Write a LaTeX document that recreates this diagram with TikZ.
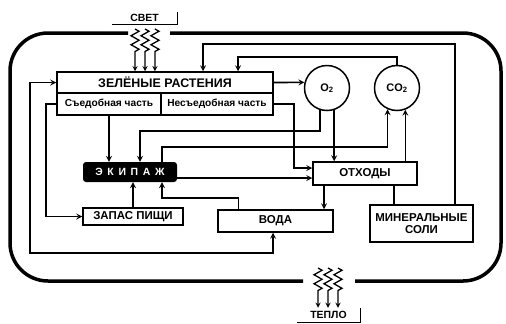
\documentclass[tikz,border=0pt]{standalone}
\usepackage{fontspec}
\setmainfont{Liberation Sans}
\usetikzlibrary{decorations.pathmorphing}

\newcommand{\spaced}[1]{\addfontfeature{LetterSpace=45}#1}

\begin{document}
\begin{tikzpicture}[
    x=1bp, y=-1bp,
    block/.style={rectangle, draw, line width=1.5bp, inner sep=0pt, font=\bfseries\fontsize{11.5}{12.5}\selectfont},
    part/.style={rectangle, draw, line width=1.5bp, inner sep=0pt, minimum height=22bp, font=\bfseries\fontsize{10.2}{11}\selectfont},
    gas/.style={circle, draw, line width=1.5bp, minimum size=45bp, inner sep=0pt, font=\bfseries\fontsize{11}{12}\selectfont},
    crewbox/.style={rectangle, rounded corners=3bp, fill=black, text=white, minimum width=94bp, minimum height=20bp, font=\bfseries\fontsize{10.5}{11}\selectfont},
    extlabel/.style={inner sep=0pt, minimum height=14bp, font=\bfseries\fontsize{10.5}{11}\selectfont},
    flow/.style={->, >=stealth, line width=1.6bp},
    heat/.style={->, >=stealth, line width=1.3bp, decoration={zigzag, segment length=9bp, amplitude=4bp}},
    frame/.style={line width=3.5bp, rounded corners=38bp}
]
    \useasboundingbox (0,0) rectangle (506,323);

    % Frame with openings for light and heat
    \draw[frame] (170,33) -- (501,33) -- (501,281) -- (355,281);
    \draw[frame] (303,281) -- (10,281) -- (10,33) -- (128,33);

    % Blocks
    \node[block, minimum width=216bp, minimum height=21bp, font=\bfseries\fontsize{12.5}{13}\selectfont] (plants) at (165,82.5) {ЗЕЛЁНЫЕ РАСТЕНИЯ};
    \node[part, minimum width=104bp] (edible) at (109,104) {Съедобная часть};
    \node[part, minimum width=112bp] (inedible) at (217,104) {Несъедобная часть};
    \node[gas] (o2) at (327,88) {O\textsubscript{2}};
    \node[gas] (co2) at (397,88) {CO\textsubscript{2}};
    \node[crewbox] (crew) at (130,172) {\spaced{ЭКИПАЖ}};
    \node[block, minimum width=100bp, minimum height=17bp] (food) at (133,216.5) {ЗАПАС ПИЩИ};
    \node[block, minimum width=115bp, minimum height=22bp] (water) at (275.5,221) {ВОДА};
    \node[block, minimum width=104bp, minimum height=23bp] (waste) at (365,173.5) {ОТХОДЫ};
    \node[block, minimum width=103bp, minimum height=37bp, align=center] (salts) at (421.5,223.5) {МИНЕРАЛЬНЫЕ\\СОЛИ};

    % Light and heat
    \node[extlabel, minimum width=65bp] (light) at (144.5,17.5) {СВЕТ};
    \draw[line width=1.4bp] (light.south west) -- (light.south east) -- ([yshift=-2bp]light.north east);
    \coordinate (sun) at (145,29);
    \foreach \dx in {-10,0,10}
        \draw[heat] ([xshift=\dx]sun) decorate {-- ++(0,24)} -- ([xshift=\dx]sun |- plants.north);
    \node[extlabel, minimum width=63bp] (warmth) at (328.5,315) {ТЕПЛО};
    \draw[line width=1.4bp] (warmth.south west) -- (warmth.south east) -- (warmth.north east);
    \coordinate (warm) at (328,268);
    \foreach \dx in {-10,0,10}
        \draw[heat] ([xshift=\dx]warm) decorate {-- ++(0,24)} -- ([xshift=\dx]warm |- warmth.north);

    % Flows
    \draw[flow] (plants.east) -- (o2.166);
    \draw[flow] ([xshift=33.5bp]salts.north) -- ++(0,-160) -| ([xshift=38bp]plants.north);
    \draw[flow] (co2.north) -- ++(0,-8) -| ([xshift=73bp]plants.north);
    \draw[flow] (o2.252) -- ++(0,21) -| ([xshift=10bp]crew.north);
    \draw[flow] ([xshift=32bp]crew.north) -- ++(0,-15) -| (co2.246);
    \draw[flow] (co2.291 |- waste.north) -- (co2.291);
    \draw[flow] (o2.288) -- (o2.288 |- waste.north);
    \draw[flow] (edible.south) -- (edible.south |- crew.north);
    \draw[flow] (edible.west) -- ++(-10,0) |- (food.west);
    \draw[flow] (inedible.east) -- ++(20,0) |- ([yshift=5.5bp]waste.west);
    \draw[flow] ([yshift=-6bp]crew.east) -- ([yshift=-6bp]crew.east -| waste.west);
    \draw[flow] ([xshift=-41bp]waste.south) -- ([xshift=-41bp]waste.south |- water.north);
    \draw[flow] ([xshift=-37bp]water.north) -- ++(0,-11) -| ([xshift=32bp]crew.south);
    \draw[flow] (food.north) -- (food.north |- crew.south);
    \draw[line width=1.6bp] ([xshift=29bp]waste.south) -- ([xshift=29bp]waste.south |- salts.north);
    \draw[flow, <->] ([xshift=-2.5bp]water.south) -- ++(0,20) -| ([xshift=-26bp]plants.west) -- (plants.west);
\end{tikzpicture}
\end{document}
